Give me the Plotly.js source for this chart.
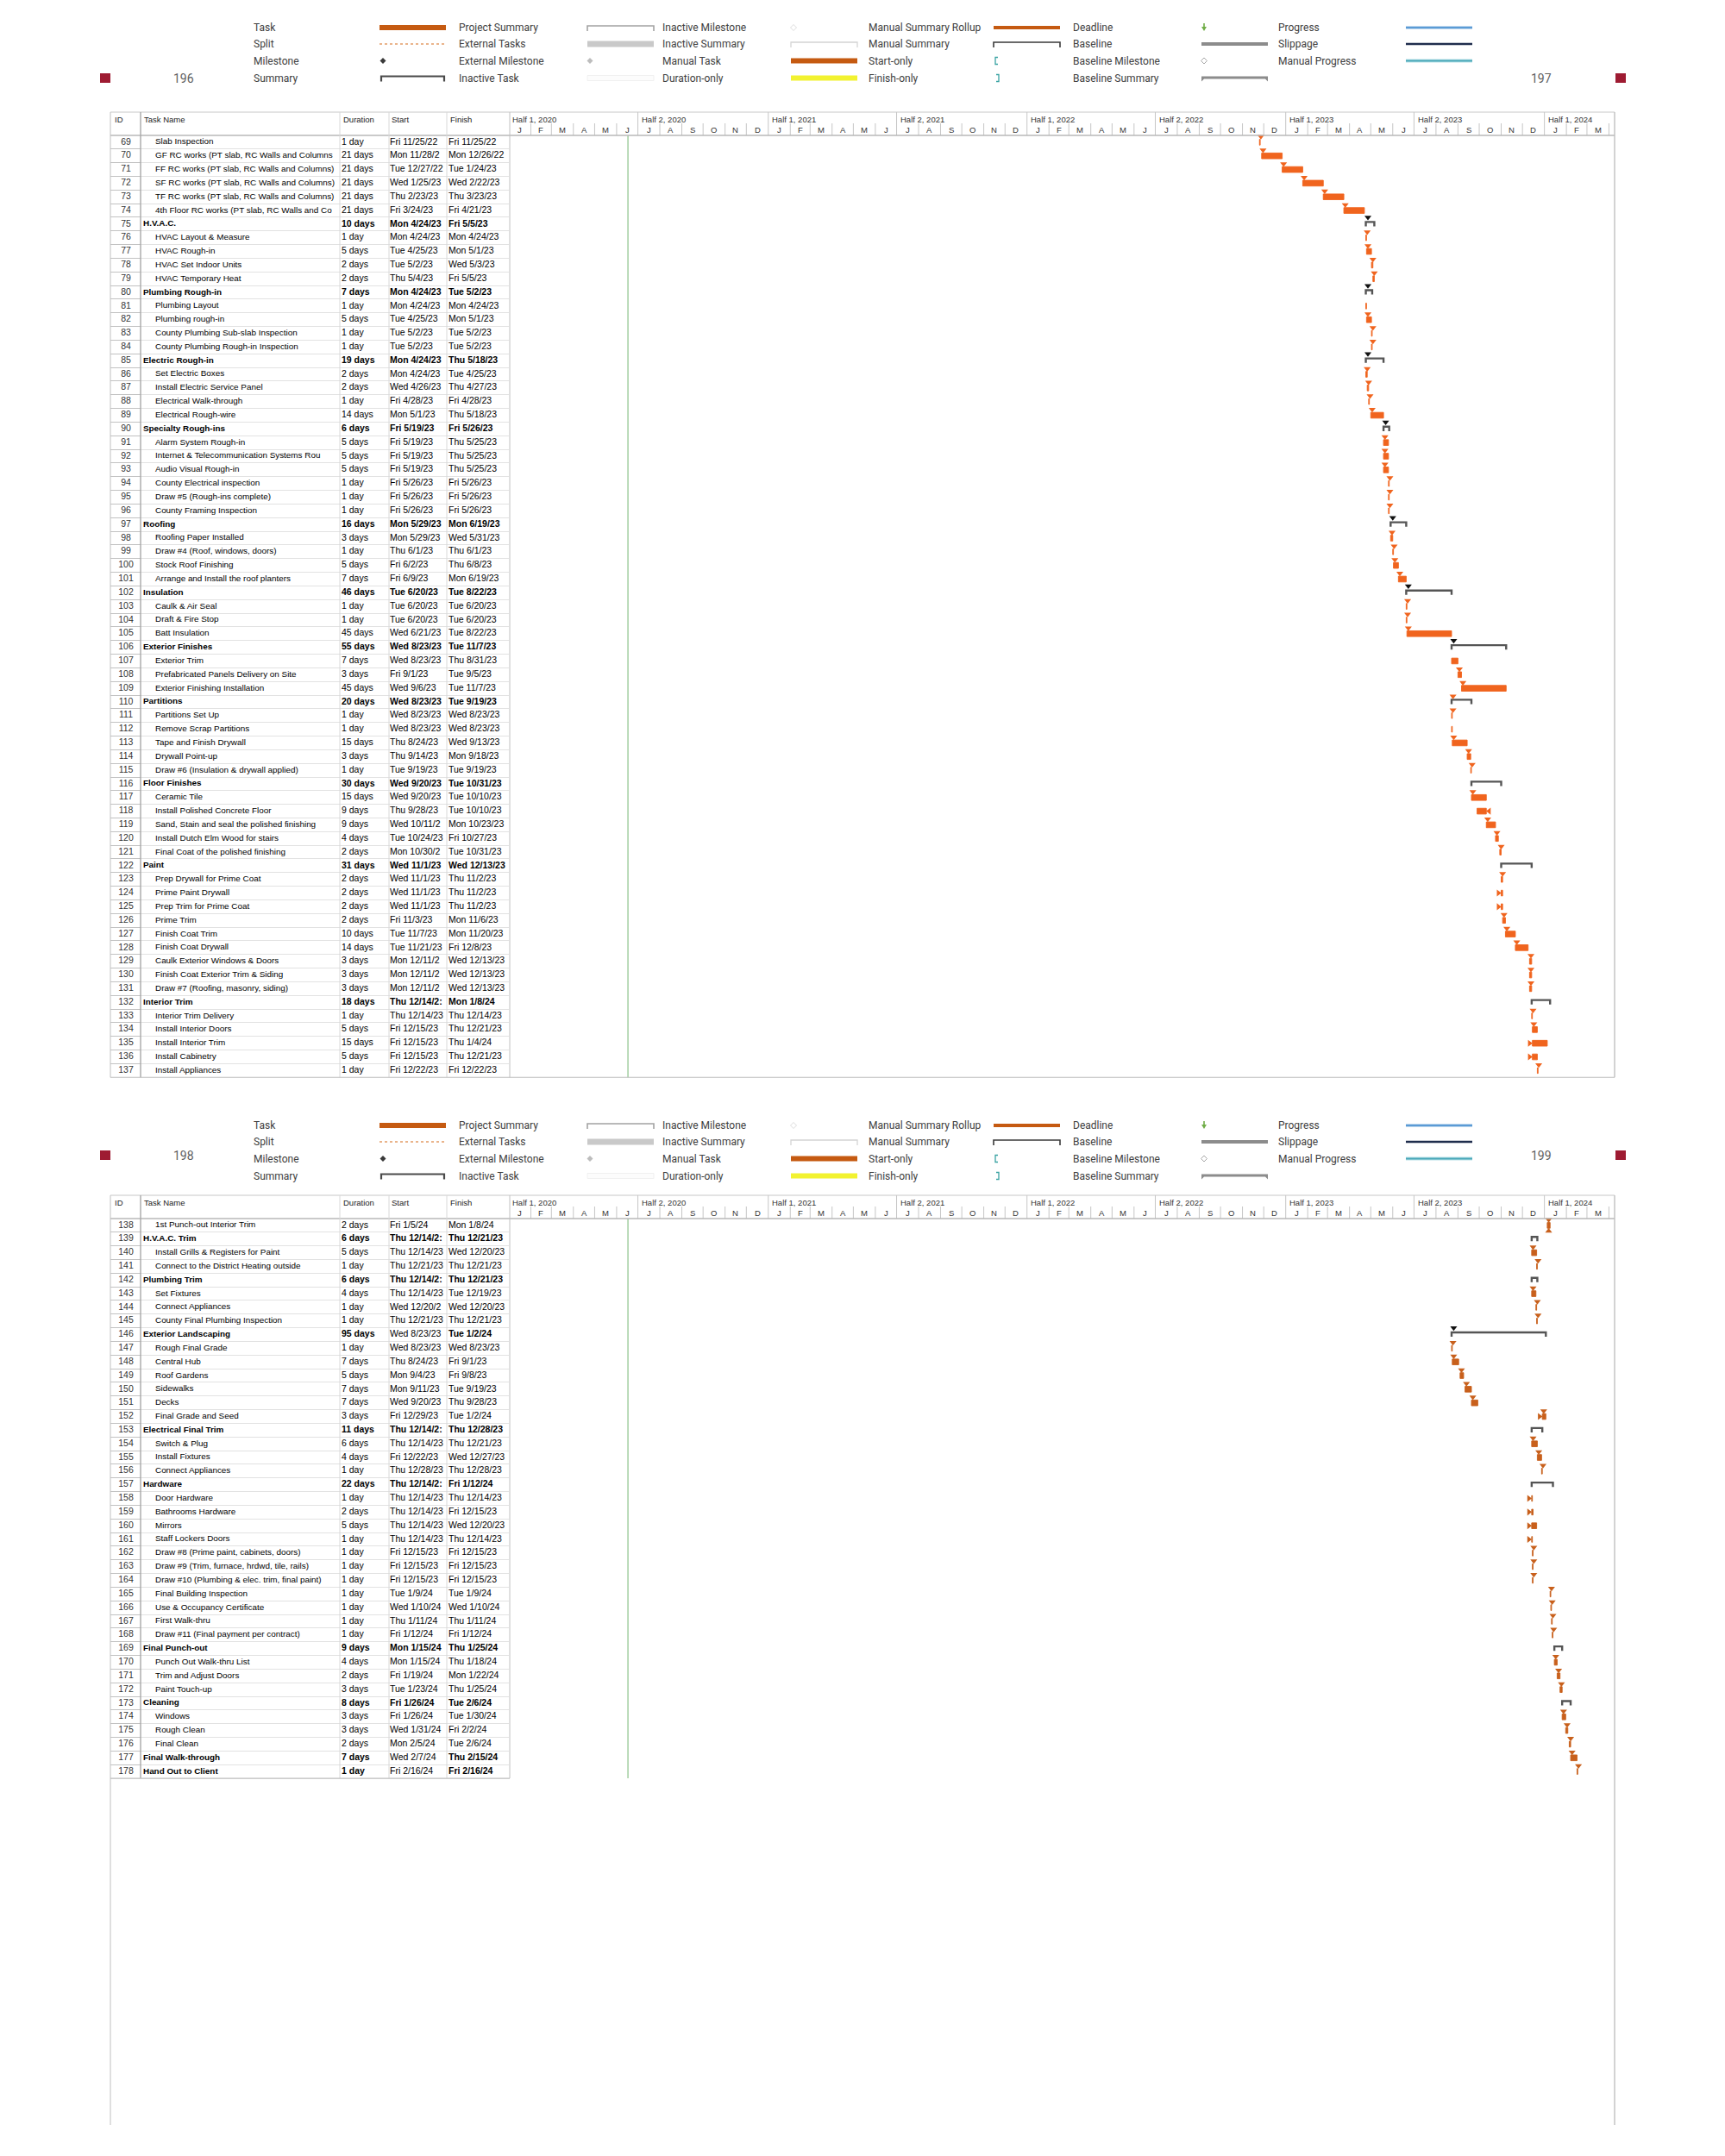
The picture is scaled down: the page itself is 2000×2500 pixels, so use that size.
<!DOCTYPE html>
<html><head><meta charset="utf-8">
<script src="https://cdn.plot.ly/plotly-3.0.1.min.js"></script>
<style>body{margin:0;background:#fff}</style>
</head><body><div id="chart" style="width:2000px;height:2500px"></div>
<script>
// ---------------- DATA ----------------
const ids = [69,70,71,72,73,74,75,76,77,78, 79,80,81,82,83,84,85,86,87,88, 89,90,91,92,93,94,95,96,97,98,
 99,100,101,102,103,104,105,106,107,108, 109,110,111,112,113,114,115,116,117,118, 119,120,121,122,123,124,125,126,127,128,
 129,130,131,132,133,134,135,136,137,138, 139,140,141,142,143,144,145,146,147,148, 149,150,151,152,153,154,155,156,157,158,
 159,160,161,162,163,164,165,166,167,168, 169,170,171,172,173,174,175,176,177,178];

const taskNames = [
 'Slab Inspection','GF RC works (PT slab, RC Walls and Columns','FF RC works (PT slab, RC Walls and Columns)','SF RC works (PT slab, RC Walls and Columns)','TF RC works (PT slab, RC Walls and Columns)','4th Floor RC works (PT slab, RC Walls and Co','H.V.A.C.','HVAC Layout & Measure','HVAC Rough-in','HVAC Set Indoor Units',
 'HVAC Temporary Heat','Plumbing Rough-in','Plumbing Layout','Plumbing rough-in','County Plumbing Sub-slab Inspection','County Plumbing Rough-in Inspection','Electric Rough-in','Set Electric Boxes','Install Electric Service Panel','Electrical Walk-through',
 'Electrical Rough-wire','Specialty Rough-ins','Alarm System Rough-in','Internet & Telecommunication Systems Rou','Audio Visual Rough-in','County Electrical inspection','Draw #5 (Rough-ins complete)','County Framing Inspection','Roofing','Roofing Paper Installed',
 'Draw #4 (Roof, windows, doors)','Stock Roof Finishing','Arrange and Install the roof planters','Insulation','Caulk & Air Seal','Draft & Fire Stop','Batt Insulation','Exterior Finishes','Exterior Trim','Prefabricated Panels Delivery on Site',
 'Exterior Finishing Installation','Partitions','Partitions Set Up','Remove Scrap Partitions','Tape and Finish Drywall','Drywall Point-up','Draw #6 (Insulation & drywall applied)','Floor Finishes','Ceramic Tile','Install Polished Concrete Floor',
 'Sand, Stain and seal the polished finishing','Install Dutch Elm Wood for stairs','Final Coat of the polished finishing','Paint','Prep Drywall for Prime Coat','Prime Paint Drywall','Prep Trim for Prime Coat','Prime Trim','Finish Coat Trim','Finish Coat Drywall',
 'Caulk Exterior Windows & Doors','Finish Coat Exterior Trim & Siding','Draw #7 (Roofing, masonry, siding)','Interior Trim','Interior Trim Delivery','Install Interior Doors','Install Interior Trim','Install Cabinetry','Install Appliances','1st Punch-out Interior Trim',
 'H.V.A.C. Trim','Install Grills & Registers for Paint','Connect to the District Heating outside','Plumbing Trim','Set Fixtures','Connect Appliances','County Final Plumbing Inspection','Exterior Landscaping','Rough Final Grade','Central Hub',
 'Roof Gardens','Sidewalks','Decks','Final Grade and Seed','Electrical Final Trim','Switch & Plug','Install Fixtures','Connect Appliances','Hardware','Door Hardware',
 'Bathrooms Hardware','Mirrors','Staff Lockers Doors','Draw #8 (Prime paint, cabinets, doors)','Draw #9 (Trim, furnace, hrdwd, tile, rails)','Draw #10 (Plumbing & elec. trim, final paint)','Final Building Inspection','Use & Occupancy Certificate','First Walk-thru','Draw #11 (Final payment per contract)',
 'Final Punch-out','Punch Out Walk-thru List','Trim and Adjust Doors','Paint Touch-up','Cleaning','Windows','Rough Clean','Final Clean','Final Walk-through','Hand Out to Client'];

const durations = [
 '1 day','21 days','21 days','21 days','21 days','21 days','10 days','1 day','5 days','2 days',
 '2 days','7 days','1 day','5 days','1 day','1 day','19 days','2 days','2 days','1 day',
 '14 days','6 days','5 days','5 days','5 days','1 day','1 day','1 day','16 days','3 days',
 '1 day','5 days','7 days','46 days','1 day','1 day','45 days','55 days','7 days','3 days',
 '45 days','20 days','1 day','1 day','15 days','3 days','1 day','30 days','15 days','9 days',
 '9 days','4 days','2 days','31 days','2 days','2 days','2 days','2 days','10 days','14 days',
 '3 days','3 days','3 days','18 days','1 day','5 days','15 days','5 days','1 day','2 days',
 '6 days','5 days','1 day','6 days','4 days','1 day','1 day','95 days','1 day','7 days',
 '5 days','7 days','7 days','3 days','11 days','6 days','4 days','1 day','22 days','1 day',
 '2 days','5 days','1 day','1 day','1 day','1 day','1 day','1 day','1 day','1 day',
 '9 days','4 days','2 days','3 days','8 days','3 days','3 days','2 days','7 days','1 day'];

const startText = [
 'Fri 11/25/22','Mon 11/28/2','Tue 12/27/22','Wed 1/25/23','Thu 2/23/23','Fri 3/24/23','Mon 4/24/23','Mon 4/24/23','Tue 4/25/23','Tue 5/2/23',
 'Thu 5/4/23','Mon 4/24/23','Mon 4/24/23','Tue 4/25/23','Tue 5/2/23','Tue 5/2/23','Mon 4/24/23','Mon 4/24/23','Wed 4/26/23','Fri 4/28/23',
 'Mon 5/1/23','Fri 5/19/23','Fri 5/19/23','Fri 5/19/23','Fri 5/19/23','Fri 5/26/23','Fri 5/26/23','Fri 5/26/23','Mon 5/29/23','Mon 5/29/23',
 'Thu 6/1/23','Fri 6/2/23','Fri 6/9/23','Tue 6/20/23','Tue 6/20/23','Tue 6/20/23','Wed 6/21/23','Wed 8/23/23','Wed 8/23/23','Fri 9/1/23',
 'Wed 9/6/23','Wed 8/23/23','Wed 8/23/23','Wed 8/23/23','Thu 8/24/23','Thu 9/14/23','Tue 9/19/23','Wed 9/20/23','Wed 9/20/23','Thu 9/28/23',
 'Wed 10/11/2','Tue 10/24/23','Mon 10/30/2','Wed 11/1/23','Wed 11/1/23','Wed 11/1/23','Wed 11/1/23','Fri 11/3/23','Tue 11/7/23','Tue 11/21/23',
 'Mon 12/11/2','Mon 12/11/2','Mon 12/11/2','Thu 12/14/2:','Thu 12/14/23','Fri 12/15/23','Fri 12/15/23','Fri 12/15/23','Fri 12/22/23','Fri 1/5/24',
 'Thu 12/14/2:','Thu 12/14/23','Thu 12/21/23','Thu 12/14/2:','Thu 12/14/23','Wed 12/20/2','Thu 12/21/23','Wed 8/23/23','Wed 8/23/23','Thu 8/24/23',
 'Mon 9/4/23','Mon 9/11/23','Wed 9/20/23','Fri 12/29/23','Thu 12/14/2:','Thu 12/14/23','Fri 12/22/23','Thu 12/28/23','Thu 12/14/2:','Thu 12/14/23',
 'Thu 12/14/23','Thu 12/14/23','Thu 12/14/23','Fri 12/15/23','Fri 12/15/23','Fri 12/15/23','Tue 1/9/24','Wed 1/10/24','Thu 1/11/24','Fri 1/12/24',
 'Mon 1/15/24','Mon 1/15/24','Fri 1/19/24','Tue 1/23/24','Fri 1/26/24','Fri 1/26/24','Wed 1/31/24','Mon 2/5/24','Wed 2/7/24','Fri 2/16/24'];

const finishText = [
 'Fri 11/25/22','Mon 12/26/22','Tue 1/24/23','Wed 2/22/23','Thu 3/23/23','Fri 4/21/23','Fri 5/5/23','Mon 4/24/23','Mon 5/1/23','Wed 5/3/23',
 'Fri 5/5/23','Tue 5/2/23','Mon 4/24/23','Mon 5/1/23','Tue 5/2/23','Tue 5/2/23','Thu 5/18/23','Tue 4/25/23','Thu 4/27/23','Fri 4/28/23',
 'Thu 5/18/23','Fri 5/26/23','Thu 5/25/23','Thu 5/25/23','Thu 5/25/23','Fri 5/26/23','Fri 5/26/23','Fri 5/26/23','Mon 6/19/23','Wed 5/31/23',
 'Thu 6/1/23','Thu 6/8/23','Mon 6/19/23','Tue 8/22/23','Tue 6/20/23','Tue 6/20/23','Tue 8/22/23','Tue 11/7/23','Thu 8/31/23','Tue 9/5/23',
 'Tue 11/7/23','Tue 9/19/23','Wed 8/23/23','Wed 8/23/23','Wed 9/13/23','Mon 9/18/23','Tue 9/19/23','Tue 10/31/23','Tue 10/10/23','Tue 10/10/23',
 'Mon 10/23/23','Fri 10/27/23','Tue 10/31/23','Wed 12/13/23','Thu 11/2/23','Thu 11/2/23','Thu 11/2/23','Mon 11/6/23','Mon 11/20/23','Fri 12/8/23',
 'Wed 12/13/23','Wed 12/13/23','Wed 12/13/23','Mon 1/8/24','Thu 12/14/23','Thu 12/21/23','Thu 1/4/24','Thu 12/21/23','Fri 12/22/23','Mon 1/8/24',
 'Thu 12/21/23','Wed 12/20/23','Thu 12/21/23','Thu 12/21/23','Tue 12/19/23','Wed 12/20/23','Thu 12/21/23','Tue 1/2/24','Wed 8/23/23','Fri 9/1/23',
 'Fri 9/8/23','Tue 9/19/23','Thu 9/28/23','Tue 1/2/24','Thu 12/28/23','Thu 12/21/23','Wed 12/27/23','Thu 12/28/23','Fri 1/12/24','Thu 12/14/23',
 'Fri 12/15/23','Wed 12/20/23','Thu 12/14/23','Fri 12/15/23','Fri 12/15/23','Fri 12/15/23','Tue 1/9/24','Wed 1/10/24','Thu 1/11/24','Fri 1/12/24',
 'Thu 1/25/24','Thu 1/18/24','Mon 1/22/24','Thu 1/25/24','Tue 2/6/24','Tue 1/30/24','Fri 2/2/24','Tue 2/6/24','Thu 2/15/24','Fri 2/16/24'];

const startDates = [
 '2022-11-25','2022-11-28','2022-12-27','2023-01-25','2023-02-23','2023-03-24','2023-04-24','2023-04-24','2023-04-25','2023-05-02',
 '2023-05-04','2023-04-24','2023-04-24','2023-04-25','2023-05-02','2023-05-02','2023-04-24','2023-04-24','2023-04-26','2023-04-28',
 '2023-05-01','2023-05-19','2023-05-19','2023-05-19','2023-05-19','2023-05-26','2023-05-26','2023-05-26','2023-05-29','2023-05-29',
 '2023-06-01','2023-06-02','2023-06-09','2023-06-20','2023-06-20','2023-06-20','2023-06-21','2023-08-23','2023-08-23','2023-09-01',
 '2023-09-06','2023-08-23','2023-08-23','2023-08-23','2023-08-24','2023-09-14','2023-09-19','2023-09-20','2023-09-20','2023-09-28',
 '2023-10-11','2023-10-24','2023-10-30','2023-11-01','2023-11-01','2023-11-01','2023-11-01','2023-11-03','2023-11-07','2023-11-21',
 '2023-12-11','2023-12-11','2023-12-11','2023-12-14','2023-12-14','2023-12-15','2023-12-15','2023-12-15','2023-12-22','2024-01-05',
 '2023-12-14','2023-12-14','2023-12-21','2023-12-14','2023-12-14','2023-12-20','2023-12-21','2023-08-23','2023-08-23','2023-08-24',
 '2023-09-04','2023-09-11','2023-09-20','2023-12-29','2023-12-14','2023-12-14','2023-12-22','2023-12-28','2023-12-14','2023-12-14',
 '2023-12-14','2023-12-14','2023-12-14','2023-12-15','2023-12-15','2023-12-15','2024-01-09','2024-01-10','2024-01-11','2024-01-12',
 '2024-01-15','2024-01-15','2024-01-19','2024-01-23','2024-01-26','2024-01-26','2024-01-31','2024-02-05','2024-02-07','2024-02-16'];

const finishDates = [
 '2022-11-25','2022-12-26','2023-01-24','2023-02-22','2023-03-23','2023-04-21','2023-05-05','2023-04-24','2023-05-01','2023-05-03',
 '2023-05-05','2023-05-02','2023-04-24','2023-05-01','2023-05-02','2023-05-02','2023-05-18','2023-04-25','2023-04-27','2023-04-28',
 '2023-05-18','2023-05-26','2023-05-25','2023-05-25','2023-05-25','2023-05-26','2023-05-26','2023-05-26','2023-06-19','2023-05-31',
 '2023-06-01','2023-06-08','2023-06-19','2023-08-22','2023-06-20','2023-06-20','2023-08-22','2023-11-07','2023-08-31','2023-09-05',
 '2023-11-07','2023-09-19','2023-08-23','2023-08-23','2023-09-13','2023-09-18','2023-09-19','2023-10-31','2023-10-10','2023-10-10',
 '2023-10-23','2023-10-27','2023-10-31','2023-12-13','2023-11-02','2023-11-02','2023-11-02','2023-11-06','2023-11-20','2023-12-08',
 '2023-12-13','2023-12-13','2023-12-13','2024-01-08','2023-12-14','2023-12-21','2024-01-04','2023-12-21','2023-12-22','2024-01-08',
 '2023-12-21','2023-12-20','2023-12-21','2023-12-21','2023-12-19','2023-12-20','2023-12-21','2024-01-02','2023-08-23','2023-09-01',
 '2023-09-08','2023-09-19','2023-09-28','2024-01-02','2023-12-28','2023-12-21','2023-12-27','2023-12-28','2024-01-12','2023-12-14',
 '2023-12-15','2023-12-20','2023-12-14','2023-12-15','2023-12-15','2023-12-15','2024-01-09','2024-01-10','2024-01-11','2024-01-12',
 '2024-01-25','2024-01-18','2024-01-22','2024-01-25','2024-02-06','2024-01-30','2024-02-02','2024-02-06','2024-02-15','2024-02-16'];

// link arrow marks drawn at each task: d = down onto start, k = black (summary), r = from left, l = into finish, u = from below
const linkMarks = [
 'd','d','d','d','d','d','k','d','d','d',
 'd','k','','d','d','d','k','d','d','d',
 'd','k','d','d','d','d','d','d','k','d',
 'd','d','d','k','d','d','d','k','','d',
 'd','d','d','','d','d','d','','d','l',
 'd','d','d','','d','r','r','d','d','d',
 'd','d','d','','d','d','r','r','d','du',
 '','d','d','','d','d','d','k','d','d',
 'd','d','d','dr','','d','d','d','','r',
 'r','r','r','d','d','d','d','d','d','d',
 '','d','d','d','','d','d','d','d','d'];

const headingIds = [75,80,85,90,97,102,106,110,116,122,132,139,142,146,153,157,169,173,177,178];
const plainStartIds = [146,177,178];

const tableHeaders = ['ID','Task Name','Duration','Start','Finish'];
const monthLetters = ['J','F','M','A','M','J','J','A','S','O','N','D'];
const statusDate = '2020-06-17';
const axisStart = '2020-01-01', axisEnd = '2024-04-09';
const pageNumbers = [['196','197'],['198','199']];
const legendCols = [
 ['Task','Split','Milestone','Summary'],
 ['Project Summary','External Tasks','External Milestone','Inactive Task'],
 ['Inactive Milestone','Inactive Summary','Manual Task','Duration-only'],
 ['Manual Summary Rollup','Manual Summary','Start-only','Finish-only'],
 ['Deadline','Baseline','Baseline Milestone','Baseline Summary'],
 ['Progress','Slippage','Manual Progress']
];

// ---------------- DRAWING ----------------
const W = 2000, H = 2500, ROW = 15.83, DAY = 86400000;
const F = 'Liberation Sans, Arial, sans-serif';
const LF = 'Roboto, Liberation Sans, sans-serif';
const px = x => x / W, py = y => 1 - y / H;
const isoOf = ms => new Date(ms).toISOString().replace('T', ' ').slice(0, 19);
const shiftDays = (iso, d) => isoOf(Date.parse(iso) + d * DAY);
const axName = a => a[0] + 'axis' + a.slice(1);
const isHeading = i => headingIds.includes(ids[i]);
const isSummary = i => isHeading(i) && i + 1 < ids.length && !isHeading(i + 1);

const traces = [], shapes = [], annotations = [];
const layout = {
  width: W, height: H, margin: {l: 0, r: 0, t: 0, b: 0},
  paper_bgcolor: '#ffffff', plot_bgcolor: 'rgba(0,0,0,0)', showlegend: false,
  barmode: 'overlay', shapes, annotations
};

function line(x0, y0, x1, y1, color, width, dash) {
  shapes.push({type: 'line', xref: 'paper', yref: 'paper', x0: px(x0), y0: py(y0), x1: px(x1), y1: py(y1),
    line: {color, width: width || 1, dash: dash || 'solid'}, layer: 'above'});
}
function rect(x0, y0, x1, y1, fill, lc) {
  shapes.push({type: 'rect', xref: 'paper', yref: 'paper', x0: px(x0), y0: py(y0), x1: px(x1), y1: py(y1),
    fillcolor: fill, line: {color: lc || fill, width: lc ? 1 : 0}, layer: 'above'});
}
function path(pts, fill, lc, lw, close) {
  const d = pts.map((p, k) => (k ? 'L' : 'M') + px(p[0]).toFixed(6) + ',' + py(p[1]).toFixed(6)).join(' ') + (close ? ' Z' : '');
  shapes.push({type: 'path', xref: 'paper', yref: 'paper', path: d, fillcolor: fill || 'rgba(0,0,0,0)',
    line: {color: lc || 'rgba(0,0,0,0)', width: lw || 0}, layer: 'above'});
}
function text(x, y, t, size, color, anchor, family) {
  annotations.push({xref: 'paper', yref: 'paper', x: px(x), y: py(y), text: t, showarrow: false,
    xanchor: anchor || 'left', yanchor: 'middle', font: {family: family || F, size, color}});
}
const diamond = (cx, cy, r, fill, lc) => path([[cx, cy - r], [cx + r, cy], [cx, cy + r], [cx - r, cy]], fill, lc, lc ? 1 : 0, true);
const bracket = (x0, x1, y, color, w) => path([[x0, y + 4], [x0, y - 2], [x1, y - 2], [x1, y + 4]], null, color, w, false);

function legendSymbol(name, x0, y) {
  const x1 = x0 + 77;
  switch (name) {
    case 'Task': case 'Manual Task': rect(x0, y - 3, x1, y + 3, '#C55A11'); break;
    case 'Split': line(x0, y, x1, y, '#E39C66', 1.4, 'dot'); break;
    case 'Milestone': diamond(x0 + 4, y, 3.5, '#3A3A3A'); break;
    case 'Summary': bracket(x0 + 2, x1 - 2, y, '#4A4A4A', 2.2); break;
    case 'Project Summary': bracket(x0, x1, y, '#A3A3A3', 1.6); break;
    case 'External Tasks': rect(x0, y - 3.5, x1, y + 3.5, '#C9C9C9'); break;
    case 'External Milestone': diamond(x0 + 3, y, 3.5, '#BDBDBD'); break;
    case 'Inactive Task': rect(x0, y - 3, x1, y + 3, '#FCFCFC', '#F0F0F0'); break;
    case 'Inactive Milestone': diamond(x0 + 3, y, 3.5, '#FFFFFF', '#DDDDDD'); break;
    case 'Inactive Summary': bracket(x0, x1, y, '#D4D4D4', 1.3); break;
    case 'Duration-only': rect(x0, y - 3, x1, y + 3, '#F2F230'); break;
    case 'Manual Summary Rollup': rect(x0, y - 2, x1, y + 2, '#C55A11'); break;
    case 'Manual Summary': bracket(x0, x1, y, '#3A3A3A', 1.6); break;
    case 'Start-only': path([[x0 + 5, y - 4], [x0 + 2, y - 4], [x0 + 2, y + 4], [x0 + 5, y + 4]], null, '#3AA3A3', 1.3); break;
    case 'Finish-only': path([[x0 + 3, y - 4], [x0 + 6, y - 4], [x0 + 6, y + 4], [x0 + 3, y + 4]], null, '#3AA3A3', 1.3); break;
    case 'Deadline': line(x0 + 3, y - 5, x0 + 3, y, '#70AD47', 1.6);
      path([[x0, y - 1], [x0 + 6, y - 1], [x0 + 3, y + 4]], '#70AD47', null, 0, true); break;
    case 'Baseline': rect(x0, y - 2, x1, y + 2, '#8C8C8C'); break;
    case 'Baseline Milestone': diamond(x0 + 3, y, 3.5, '#FFFFFF', '#A6A6A6'); break;
    case 'Baseline Summary': path([[x0, y - 2], [x1, y - 2], [x1, y + 4], [x1 - 3, y + 1], [x0 + 3, y + 1], [x0, y + 4]], '#8C8C8C', null, 0, true); break;
    case 'Progress': line(x0, y, x1, y, '#BDD7EE', 4); line(x0, y, x1, y, '#5B9BD5', 2); break;
    case 'Slippage': line(x0, y, x1, y, '#1F2D4D', 2.5); break;
    case 'Manual Progress': line(x0, y, x1, y, '#B7E1E8', 4); line(x0, y, x1, y, '#4BA8B8', 2); break;
  }
}

const pages = [
  {lo: 69, hi: 137, legendY: [32, 51, 70.5, 90.5], numY: 91, headTop: 130, frameBottom: null,
   xa: 'x', ya: 'y', ix: 'x3', iy: 'y3', bx: 'x4', by: 'y4', color: '#F0641E', nums: pageNumbers[0]},
  {lo: 138, hi: 178, legendY: [1305, 1324, 1343.5, 1363.5], numY: 1340, headTop: 1386, frameBottom: 2464,
   xa: 'x2', ya: 'y2', ix: 'x5', iy: 'y5', bx: 'x6', by: 'y6', color: '#C8601C', nums: pageNumbers[1]}
];
const legendTextX = [292, 530, 766, 1005, 1242, 1480];
const legendSymX = [440, 681, 917, 1152, 1393, 1630];
const colX = {id: 146, name: 166, nameIndent: 180, dur: 396, start: 452, finish: 520};
const headerX = [131, 165, 396, 452, 520];

pages.forEach(p => {
  const rows = ids.map((_, i) => i).filter(i => ids[i] >= p.lo && ids[i] <= p.hi);
  const hb = p.headTop + 27;
  const tb = hb + rows.length * ROW;
  const fb = p.frameBottom || tb;
  const yDom = [py(tb), py(hb)];
  const yRange = [p.hi + 0.5, p.lo - 0.5];
  const gridVals = rows.map(i => ids[i] - 0.5).concat([p.hi + 0.5]);

  // axes
  layout[axName(p.xa)] = {type: 'date', range: [axisStart, axisEnd], domain: [px(590), px(1872)], anchor: p.ya, visible: false};
  layout[axName(p.ya)] = {range: yRange, domain: yDom, anchor: p.xa, visible: false};
  layout[axName(p.ix)] = {range: [128, 163], domain: [px(128), px(163)], anchor: p.iy, visible: false};
  layout[axName(p.bx)] = {range: [163, 590], domain: [px(163), px(590)], anchor: p.by, visible: false};
  const gridAxis = c => ({range: yRange, domain: yDom, showgrid: true, gridcolor: c, gridwidth: 1, tickmode: 'array',
    tickvals: gridVals, showticklabels: false, ticks: '', zeroline: false, showline: false});
  layout[axName(p.iy)] = Object.assign(gridAxis('#C2C2C2'), {anchor: p.ix});
  layout[axName(p.by)] = Object.assign(gridAxis('#E2E2E2'), {anchor: p.bx});

  // table text
  const tx = (xa, ya, xs, texts, pos, color, size) => traces.push({type: 'scatter', mode: 'text', xaxis: xa, yaxis: ya,
    x: xs, y: rows.map(i => ids[i]), text: texts, textposition: pos, cliponaxis: false,
    textfont: {family: F, size: size || 10.5, color}, hoverinfo: 'skip'});
  const b = (i, s) => isHeading(i) ? '<b>' + s + '</b>' : s;
  tx(p.ix, p.iy, rows.map(() => colX.id), rows.map(i => String(ids[i])), 'middle center', '#333333');
  tx(p.bx, p.by, rows.map(i => isHeading(i) ? colX.name : colX.nameIndent), rows.map(i => b(i, taskNames[i])), 'middle right', '#000000', 9.9);
  tx(p.bx, p.by, rows.map(() => colX.dur), rows.map(i => b(i, durations[i])), 'middle right', '#000000');
  tx(p.bx, p.by, rows.map(() => colX.start), rows.map(i => plainStartIds.includes(ids[i]) ? startText[i] : b(i, startText[i])), 'middle right', '#000000');
  tx(p.bx, p.by, rows.map(() => colX.finish), rows.map(i => b(i, finishText[i])), 'middle right', '#000000');

  // task bars
  const tRows = rows.filter(i => !isSummary(i));
  traces.push({type: 'bar', orientation: 'h', xaxis: p.xa, yaxis: p.ya,
    y: tRows.map(i => ids[i]), base: tRows.map(i => startDates[i]),
    x: tRows.map(i => Date.parse(finishDates[i]) + DAY - Date.parse(startDates[i])),
    width: 0.42, marker: {color: p.color, line: {color: p.color, width: 0.9}}, hoverinfo: 'skip'});

  // summary brackets
  const sx = [], sy = [];
  rows.filter(isSummary).forEach(i => {
    const s = startDates[i], e = shiftDays(finishDates[i], 1), r = ids[i];
    sx.push(s, s, e, e, null); sy.push(r + 0.16, r - 0.16, r - 0.16, r + 0.16, null);
  });
  traces.push({type: 'scatter', mode: 'lines', xaxis: p.xa, yaxis: p.ya, x: sx, y: sy, connectgaps: false,
    line: {color: '#555555', width: 2.4}, hoverinfo: 'skip'});

  // link arrowheads
  const mx = [], my = [], ms = [], mc = [];
  rows.forEach(i => {
    const m = linkMarks[i], r = ids[i];
    const endIso = shiftDays(finishDates[i], 1);
    for (const c of m) {
      if (c === 'd') { mx.push(shiftDays(startDates[i], 2)); my.push(r - 0.42); ms.push('triangle-down'); mc.push(p.color); }
      if (c === 'k') { mx.push(shiftDays(startDates[i], 3)); my.push(r - 0.5); ms.push('triangle-down'); mc.push('#111111'); }
      if (c === 'u') { mx.push(shiftDays(startDates[i], 2)); my.push(r + 0.42); ms.push('triangle-up'); mc.push(p.color); }
      if (c === 'r') { mx.push(shiftDays(startDates[i], -4)); my.push(r); ms.push('triangle-right'); mc.push(p.color); }
      if (c === 'l') { mx.push(shiftDays(endIso, 4)); my.push(r); ms.push('triangle-left'); mc.push(p.color); }
    }
  });
  traces.push({type: 'scatter', mode: 'markers', xaxis: p.xa, yaxis: p.ya, x: mx, y: my, cliponaxis: false,
    marker: {symbol: ms, color: mc, size: 7, line: {width: 0}}, hoverinfo: 'skip'});

  // status date line
  shapes.push({type: 'line', xref: p.xa, yref: 'paper', x0: statusDate, x1: statusDate, y0: py(hb), y1: py(tb),
    line: {color: '#8CC38A', width: 1.2}});

  // timescale header
  const endMs = Date.parse(axisEnd), startMs = Date.parse(axisStart);
  for (let yr = 2020; yr <= 2024; yr++) {
    for (let m = 0; m < 12; m++) {
      const ms0 = Date.UTC(yr, m, 1), ms1 = Date.UTC(yr, m + 1, 1);
      if (ms0 >= endMs) break;
      const half = (m === 0 || m === 6);
      if (ms0 > startMs) shapes.push({type: 'line', xref: p.xa, yref: 'paper', x0: isoOf(ms0), x1: isoOf(ms0),
        y0: py(half ? p.headTop : p.headTop + 13), y1: py(hb), line: {color: '#C6C6C6', width: 1}});
      if (ms1 <= endMs) annotations.push({xref: p.xa, yref: 'paper', x: isoOf((ms0 + ms1) / 2), y: py(p.headTop + 20.5),
        text: monthLetters[m], showarrow: false, xanchor: 'center', yanchor: 'middle', font: {family: F, size: 9.5, color: '#333'}});
      if (half) annotations.push({xref: p.xa, yref: 'paper', x: isoOf(ms0 + 3 * DAY), y: py(p.headTop + 8),
        text: 'Half ' + (m === 0 ? 1 : 2) + ', ' + yr, showarrow: false, xanchor: 'left', yanchor: 'middle',
        font: {family: F, size: 9.5, color: '#333'}});
    }
  }

  // table header + frame
  tableHeaders.forEach((h, k) => text(headerX[k], p.headTop + 8, h, 9.5, '#222'));
  line(128, p.headTop, 1872, p.headTop, '#C8C8C8', 1);
  line(128, hb, 1872, hb, '#B8B8B8', 1.4);
  line(128, p.headTop, 128, fb, '#C0C0C0', 1);
  line(1872, p.headTop, 1872, fb, '#C0C0C0', 1.4);
  line(163, p.headTop, 163, tb, '#A8A8A8', 1.4);
  [394, 451, 518].forEach(x => line(x, p.headTop, x, tb, '#D8D8D8', 1));
  line(591, p.headTop, 591, tb, '#C0C0C0', 1);
  line(128, tb, p.frameBottom ? 591 : 1872, tb, '#BDBDBD', 1.2);

  // legend
  legendCols.forEach((col, c) => col.forEach((name, r) => {
    text(legendTextX[c], p.legendY[r], name, 12, '#404040', 'left', LF);
    legendSymbol(name, legendSymX[c], p.legendY[r]);
  }));
  // page numbers and markers
  text(213, p.numY, p.nums[0], 14, '#606060', 'center', LF);
  text(1787, p.numY, p.nums[1], 14, '#606060', 'center', LF);
  rect(116, p.numY - 6, 128, p.numY + 5, '#9E1B32');
  rect(1873, p.numY - 6, 1885, p.numY + 5, '#9E1B32');
});

Plotly.newPlot('chart', traces, layout, {displayModeBar: false, staticPlot: true});
</script>
</body></html>
